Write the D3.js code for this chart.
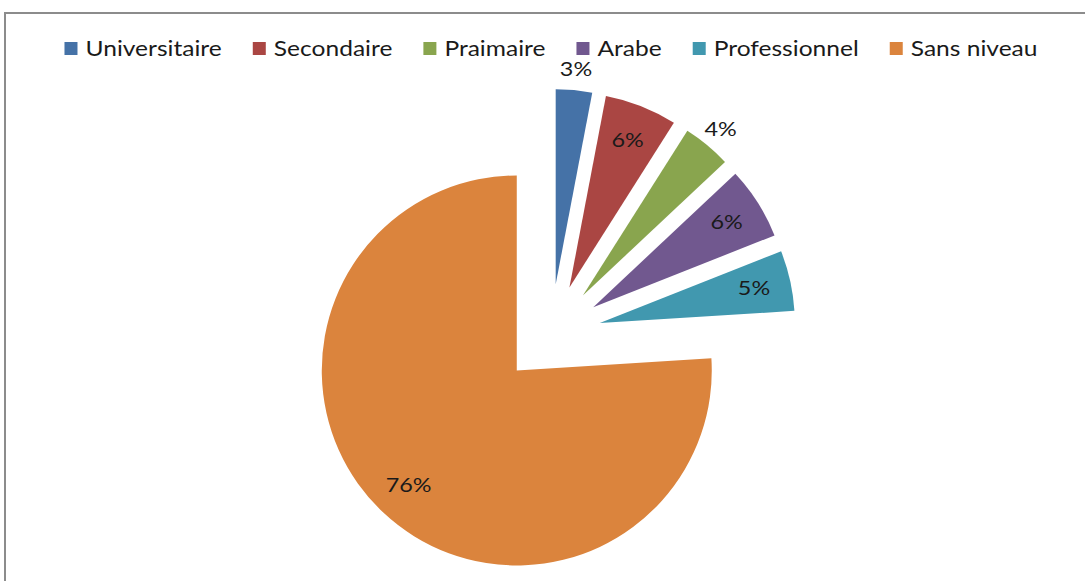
<!DOCTYPE html>
<html>
<head>
<meta charset="utf-8">
<script src="https://cdn.jsdelivr.net/npm/d3@7"></script>
<style>
  body { margin: 0; background: #fff; }
  svg text { font-family: Lato, "Open Sans", sans-serif; fill: #1a1a1a; }
</style>
</head>
<body>
<div class="pie-container"></div>
<script>
// data
const categories = ['Universitaire', 'Secondaire', 'Praimaire', 'Arabe', 'Professionnel', 'Sans niveau'];
const values = [3, 6, 4, 6, 5, 76];
const colors = ['#4572A7', '#AA4643', '#89A54E', '#71588F', '#4198AF', '#DB843D'];

const svg_width = 1085;
const svg_height = 581;
const center = {x: 551, y: 334};
const radius = 195;
const explode = 50;
// reference font is a wide-ish Calibri, stretch Lato a little
const stretch = 1.17;

const svg = d3.select('.pie-container')
              .append('svg')
              .attr('width', svg_width)
              .attr('height', svg_height);

// frame
svg.append('path')
   .attr('d', `M5,${svg_height + 5} V13 H${svg_width + 5}`)
   .attr('fill', 'none')
   .attr('stroke', '#8c8c8c')
   .attr('stroke-width', 2);

const pie_data = d3.pie().sort(null).value(d => d.value)(
    categories.map((c, i) => ({name: c, value: values[i], color: colors[i]}))
);
const total = d3.sum(values);

const arc = d3.arc().innerRadius(0).outerRadius(radius);
const label_in = d3.arc().innerRadius(158).outerRadius(158);
const label_out = d3.arc().innerRadius(216).outerRadius(216);

const pie_g = svg.append('g')
                 .attr('transform', `translate(${center.x}, ${center.y})`);

const slices = pie_g.selectAll('.slice')
                    .data(pie_data)
                    .join('g')
                    .attr('class', 'slice')
                    .attr('transform', d => {
                        const a = (d.startAngle + d.endAngle) / 2;
                        return `translate(${explode * Math.sin(a)}, ${-explode * Math.cos(a)})`;
                    });

slices.append('path')
      .attr('d', arc)
      .attr('fill', d => d.data.color);

slices.append('text')
      .attr('transform', d => {
          const p = d.data.value / total < 0.045 ? label_out.centroid(d) : label_in.centroid(d);
          return `translate(${p[0]}, ${p[1]}) scale(${stretch}, 1)`;
      })
      .attr('text-anchor', 'middle')
      .attr('dy', '0.33em')
      .style('font-size', '20px')
      .text(d => Math.round(d.data.value / total * 100) + '%');

// legend
const legend = svg.append('g').attr('class', 'legend');
const items = legend.selectAll('.item')
                    .data(pie_data)
                    .join('g')
                    .attr('class', 'item');
items.append('rect')
     .attr('width', 13)
     .attr('height', 13)
     .attr('y', -7)
     .attr('fill', d => d.data.color);
items.append('text')
     .attr('transform', `translate(21, 0) scale(${stretch}, 1)`)
     .attr('dy', '0.35em')
     .style('font-size', '21px')
     .text(d => d.data.name);

// place items side by side, centred on the pie
let widths = [];
items.each(function() {
    const t = d3.select(this).select('text').node();
    widths.push(21 + t.getComputedTextLength() * stretch);
});
const gap = 31;
const legend_total = d3.sum(widths) + gap * (widths.length - 1);
let x0 = center.x - legend_total / 2;
items.attr('transform', (d, i) => {
    const x = x0;
    x0 += widths[i] + gap;
    return `translate(${x}, 49)`;
});
</script>
</body>
</html>
